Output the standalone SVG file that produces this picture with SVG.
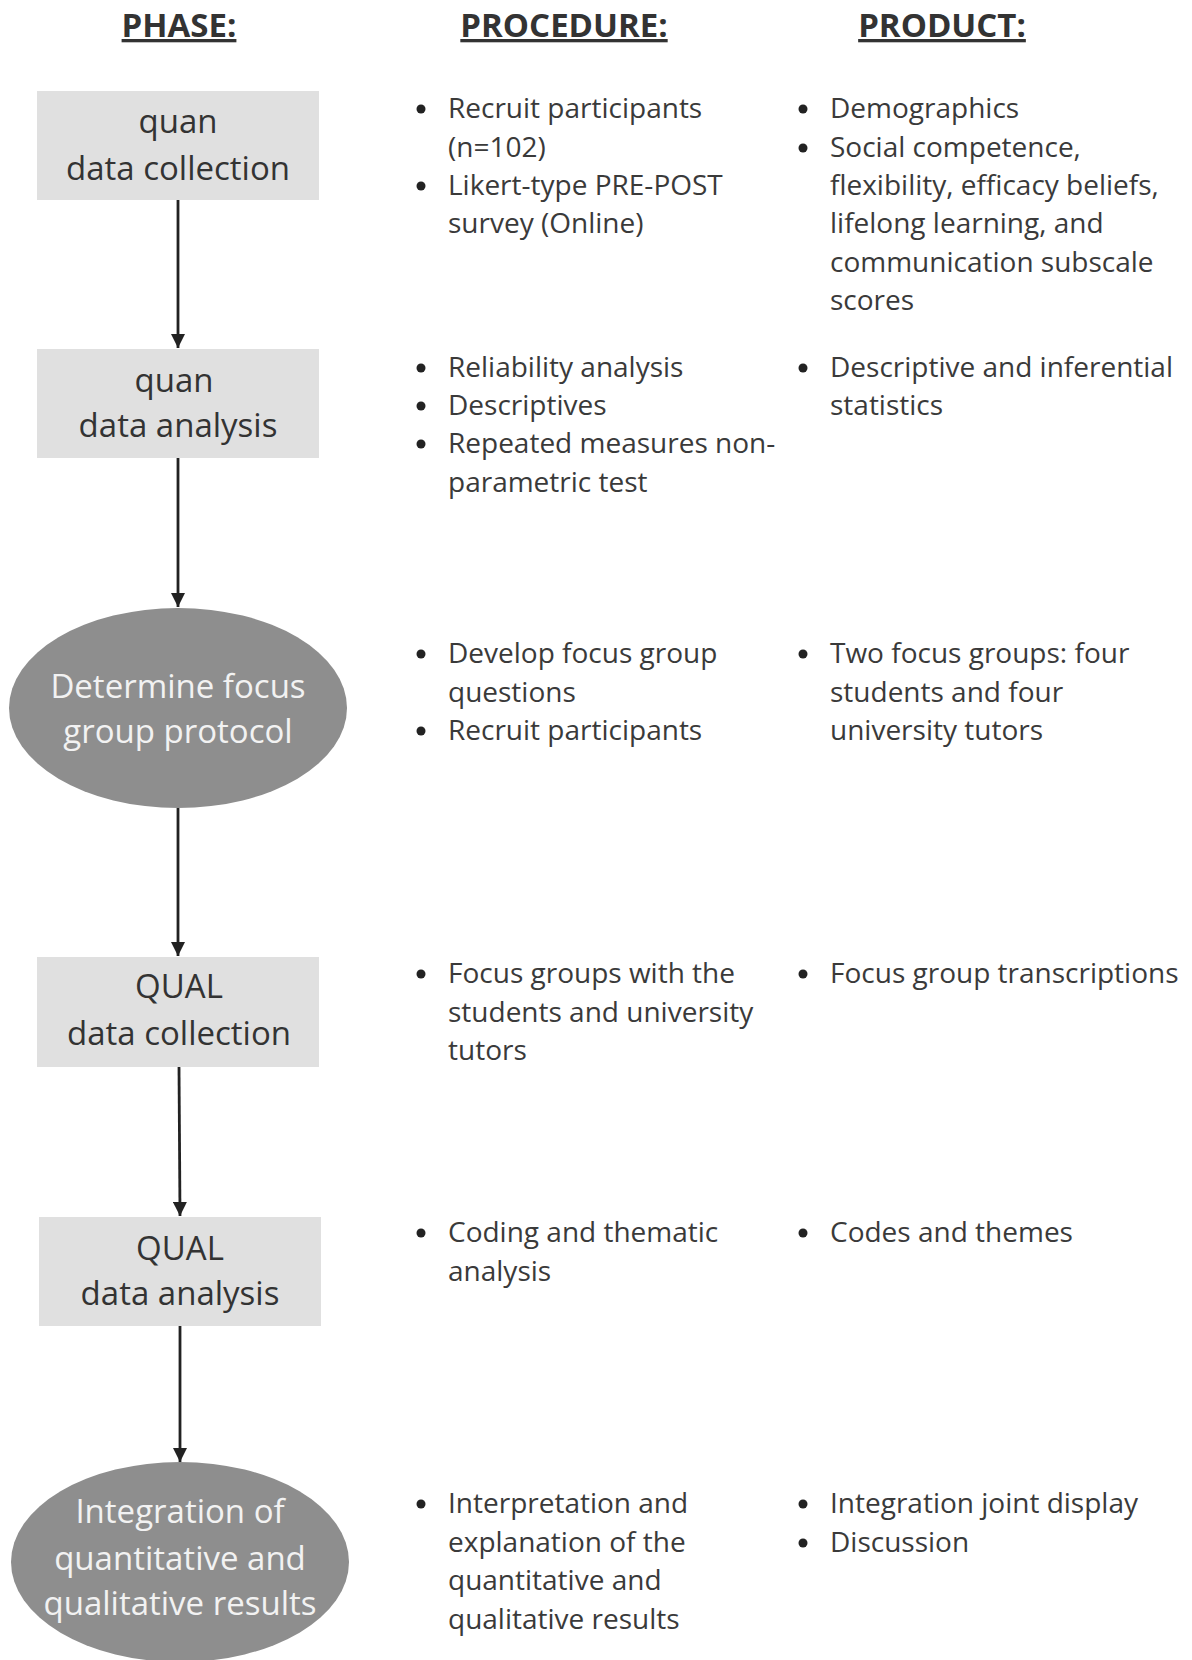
<svg xmlns="http://www.w3.org/2000/svg" width="1192" height="1660" viewBox="0 0 1192 1660">
<defs>
<style>
.hdr{font-family:"Open Sans","Liberation Sans",sans-serif;font-weight:bold;font-size:33px;fill:#333;text-decoration:underline;}
.box{fill:#e0e0e0;}
.ell{fill:#8e8e8e;}
.bt{font-family:"Open Sans","Liberation Sans",sans-serif;font-size:33px;fill:#333;text-anchor:middle;}
.et{font-family:"Open Sans","Liberation Sans",sans-serif;font-size:33px;fill:#f2f2f2;text-anchor:middle;}
.t{font-family:"Open Sans","Liberation Sans",sans-serif;font-size:28px;fill:#3a3a3a;}
.dot{fill:#222;}
.conn{stroke:#222;stroke-width:2.8;fill:none;}
</style>
<marker id="ah" viewBox="0 0 10 10" refX="10" refY="5" markerWidth="5" markerHeight="5" markerUnits="strokeWidth" orient="auto">
<path d="M0,0 L10,5 L0,10 z" fill="#222"/>
</marker>
</defs>
<rect width="1192" height="1660" fill="#fff"/>
<g id="headers">
<text class="hdr" x="179" y="37" text-anchor="middle">PHASE:</text>
<text class="hdr" x="564" y="37" text-anchor="middle">PROCEDURE:</text>
<text class="hdr" x="942" y="37" text-anchor="middle">PRODUCT:</text>
</g>
<g id="connectors">
<line class="conn" x1="178" y1="200" x2="178" y2="348" marker-end="url(#ah)"/>
<line class="conn" x1="178" y1="458" x2="178" y2="607" marker-end="url(#ah)"/>
<line class="conn" x1="178" y1="808" x2="178" y2="956" marker-end="url(#ah)"/>
<line class="conn" x1="179" y1="1067" x2="180" y2="1216" marker-end="url(#ah)"/>
<line class="conn" x1="180" y1="1326" x2="180" y2="1462" marker-end="url(#ah)"/>
</g>
<g id="n1">
<rect class="box" x="37" y="91" width="282" height="109"/>
<text class="bt" x="178" y="133">quan</text>
<text class="bt" x="178" y="180">data collection</text>
</g>
<g id="n2">
<rect class="box" x="37" y="349" width="282" height="109"/>
<text class="bt" x="174" y="392">quan</text>
<text class="bt" x="178" y="437">data analysis</text>
</g>
<g id="n3">
<ellipse class="ell" cx="178" cy="708" rx="169" ry="100"/>
<text class="et" x="178" y="698">Determine focus</text>
<text class="et" x="178" y="743">group protocol</text>
</g>
<g id="n4">
<rect class="box" x="37" y="957" width="282" height="110"/>
<text class="bt" x="179" y="998">QUAL</text>
<text class="bt" x="179" y="1045">data collection</text>
</g>
<g id="n5">
<rect class="box" x="39" y="1217" width="282" height="109"/>
<text class="bt" x="180" y="1260">QUAL</text>
<text class="bt" x="180" y="1305">data analysis</text>
</g>
<g id="n6">
<ellipse class="ell" cx="180" cy="1562" rx="169" ry="100"/>
<text class="et" x="180" y="1523">Integration of</text>
<text class="et" x="180" y="1570">quantitative and</text>
<text class="et" x="180" y="1615">qualitative results</text>
</g>
<g id="procedure">
<circle class="dot" cx="421" cy="109" r="4.5"/>
<text class="t" x="448" y="118">Recruit participants</text>
<text class="t" x="448" y="157">(n=102)</text>
<circle class="dot" cx="421" cy="186" r="4.5"/>
<text class="t" x="448" y="195">Likert-type PRE-POST</text>
<text class="t" x="448" y="233">survey (Online)</text>

<circle class="dot" cx="421" cy="368" r="4.5"/>
<text class="t" x="448" y="377">Reliability analysis</text>
<circle class="dot" cx="421" cy="406" r="4.5"/>
<text class="t" x="448" y="415">Descriptives</text>
<circle class="dot" cx="421" cy="444" r="4.5"/>
<text class="t" x="448" y="453">Repeated measures non-</text>
<text class="t" x="448" y="492">parametric test</text>

<circle class="dot" cx="421" cy="654" r="4.5"/>
<text class="t" x="448" y="663">Develop focus group</text>
<text class="t" x="448" y="702">questions</text>
<circle class="dot" cx="421" cy="731" r="4.5"/>
<text class="t" x="448" y="740">Recruit participants</text>

<circle class="dot" cx="421" cy="974" r="4.5"/>
<text class="t" x="448" y="983">Focus groups with the</text>
<text class="t" x="448" y="1022">students and university</text>
<text class="t" x="448" y="1060">tutors</text>

<circle class="dot" cx="421" cy="1233" r="4.5"/>
<text class="t" x="448" y="1242">Coding and thematic</text>
<text class="t" x="448" y="1281">analysis</text>

<circle class="dot" cx="421" cy="1504" r="4.5"/>
<text class="t" x="448" y="1513">Interpretation and</text>
<text class="t" x="448" y="1552">explanation of the</text>
<text class="t" x="448" y="1590">quantitative and</text>
<text class="t" x="448" y="1629">qualitative results</text>
</g>
<g id="product">
<circle class="dot" cx="803" cy="109" r="4.5"/>
<text class="t" x="830" y="118">Demographics</text>
<circle class="dot" cx="803" cy="148" r="4.5"/>
<text class="t" x="830" y="157">Social competence,</text>
<text class="t" x="830" y="195">flexibility, efficacy beliefs,</text>
<text class="t" x="830" y="233">lifelong learning, and</text>
<text class="t" x="830" y="272">communication subscale</text>
<text class="t" x="830" y="310">scores</text>

<circle class="dot" cx="803" cy="368" r="4.5"/>
<text class="t" x="830" y="377">Descriptive and inferential</text>
<text class="t" x="830" y="415">statistics</text>

<circle class="dot" cx="803" cy="654" r="4.5"/>
<text class="t" x="830" y="663">Two focus groups: four</text>
<text class="t" x="830" y="702">students and four</text>
<text class="t" x="830" y="740">university tutors</text>

<circle class="dot" cx="803" cy="974" r="4.5"/>
<text class="t" x="830" y="983">Focus group transcriptions</text>

<circle class="dot" cx="803" cy="1233" r="4.5"/>
<text class="t" x="830" y="1242">Codes and themes</text>

<circle class="dot" cx="803" cy="1504" r="4.5"/>
<text class="t" x="830" y="1513">Integration joint display</text>
<circle class="dot" cx="803" cy="1543" r="4.5"/>
<text class="t" x="830" y="1552">Discussion</text>
</g>
</svg>
